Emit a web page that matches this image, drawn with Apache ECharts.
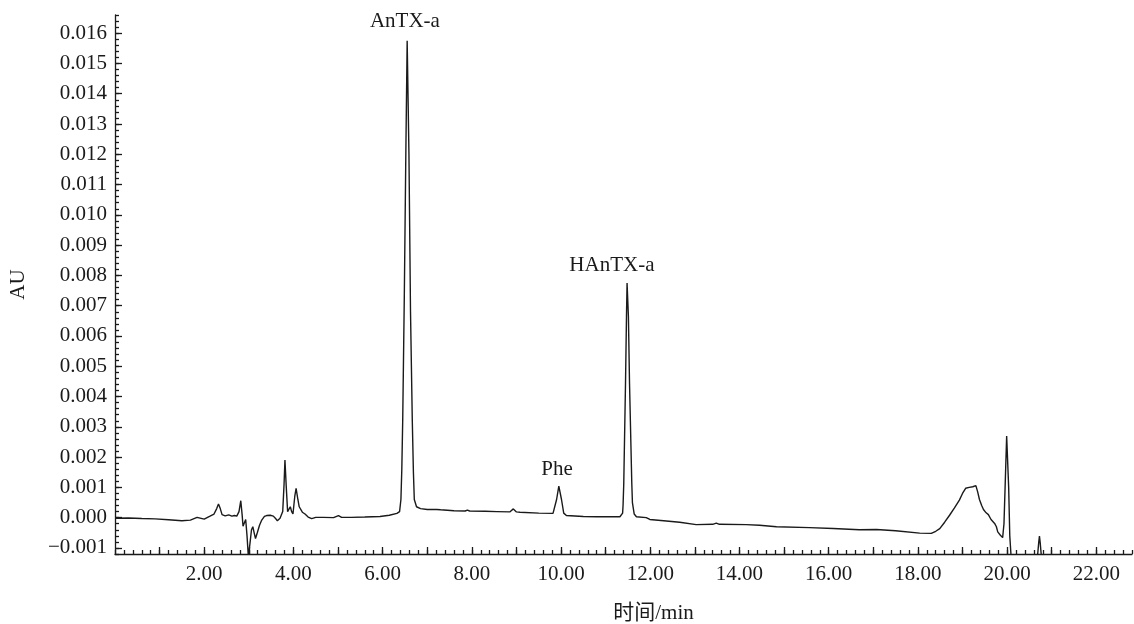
<!DOCTYPE html>
<html>
<head>
<meta charset="utf-8">
<title>HPLC chromatogram</title>
<script src="https://cdn.jsdelivr.net/npm/echarts@6/dist/echarts.min.js"></script>
<style>
  html, body { margin: 0; padding: 0; background: #fff; }
  #chart { width: 1134px; height: 624px; }
</style>
</head>
<body>
<div id="chart"></div>
<script>
// retention time (min) and absorbance (AU)
const times = [
  0.00, 0.30, 0.60, 0.90, 1.20, 1.50, 1.69, 1.84, 2.00, 2.13, 2.22, 2.28, 2.32, 2.36, 2.40,
  2.47, 2.55, 2.62, 2.68, 2.73, 2.78, 2.82, 2.85, 2.87, 2.90, 2.93, 2.96, 2.99, 3.03, 3.06,
  3.09, 3.12, 3.15, 3.19, 3.24, 3.29, 3.35, 3.40, 3.48, 3.55, 3.60, 3.64, 3.70, 3.76, 3.79,
  3.81, 3.84, 3.87, 3.93, 3.96, 3.99, 4.03, 4.06, 4.10, 4.13, 4.20, 4.26, 4.33, 4.41, 4.50,
  4.67, 4.90, 5.01, 5.08, 5.30, 5.60, 5.94, 6.15, 6.32, 6.38, 6.41, 6.43, 6.45, 6.485, 6.52,
  6.55, 6.59, 6.625, 6.665, 6.69, 6.71, 6.76, 6.85, 7.00, 7.21, 7.25, 7.30, 7.60, 7.85, 7.90,
  7.95, 8.30, 8.56, 8.85, 8.93, 9.00, 9.08, 9.50, 9.82, 9.86, 9.90, 9.95, 10.01, 10.06, 10.12,
  10.50, 10.80, 11.32, 11.38, 11.39, 11.406, 11.445, 11.467, 11.48, 11.51, 11.535, 11.586, 11.60, 11.64, 11.69,
  11.91, 11.99, 12.30, 12.66, 13.03, 13.40, 13.48, 13.55, 14.15, 14.45, 14.83, 15.57, 16.10, 16.69, 17.07,
  17.50, 18.04, 18.30, 18.40, 18.49, 18.60, 18.71, 18.82, 18.93, 19.00, 19.07, 19.15, 19.23, 19.27, 19.30,
  19.34, 19.38, 19.43, 19.47, 19.53, 19.58, 19.64, 19.72, 19.76, 19.79, 19.85, 19.90, 19.93, 19.955, 19.99,
  20.035, 20.06, 20.09, 20.15, 20.60, 20.68, 20.71, 20.725, 20.74, 20.77, 20.85, 22.80
];
const absorbance = [
  -0.00002, -0.00001, -0.00003, -0.00004, -0.00007, -0.00010, -0.00008, 0.00001, -0.00005, 0.00005, 0.00012, 0.00030, 0.00045, 0.00030, 0.00010,
  0.00006, 0.00009, 0.00005, 0.00007, 0.00005, 0.00020, 0.00056, 0.00010, -0.00028, -0.00032, -0.00006, -0.00060, -0.00130, -0.00080, -0.00040,
  -0.00030, -0.00050, -0.00069, -0.00050, -0.00025, -0.00008, 0.00004, 0.00007, 0.00008, 0.00005, -0.00003, -0.00010, -0.00002, 0.00020, 0.00110,
  0.00190, 0.00100, 0.00020, 0.00036, 0.00020, 0.00012, 0.00070, 0.00097, 0.00060, 0.00036, 0.00018, 0.00012, 0.00002, -0.00003, 0.00001,
  0.00001, 0.00000, 0.00007, 0.00001, 0.00001, 0.00002, 0.00004, 0.00008, 0.00014, 0.00020, 0.00060, 0.00160, 0.00320, 0.00720, 0.01200,
  0.01575, 0.01200, 0.00680, 0.00320, 0.00150, 0.00060, 0.00036, 0.00030, 0.00027, 0.00027, 0.00030, 0.00026, 0.00023, 0.00022, 0.00025,
  0.00022, 0.00021, 0.00020, 0.00019, 0.00029, 0.00019, 0.00018, 0.00015, 0.00014, 0.00020, 0.00060, 0.00104, 0.00060, 0.00015, 0.00007,
  0.00004, 0.00003, 0.00003, 0.00015, 0.00040, 0.00113, 0.00444, 0.00665, 0.00775, 0.00665, 0.00444, 0.00113, 0.00050, 0.00012, 0.00003,
  0.00000, -0.00006, -0.00010, -0.00015, -0.00023, -0.00022, -0.00018, -0.00022, -0.00023, -0.00025, -0.00030, -0.00033, -0.00036, -0.00040, -0.00039,
  -0.00043, -0.00051, -0.00052, -0.00045, -0.00036, -0.00015, 0.00008, 0.00032, 0.00058, 0.00080, 0.00097, 0.00100, 0.00102, 0.00098, 0.00106,
  0.00085, 0.00060, 0.00040, 0.00027, 0.00016, 0.00010, -0.00006, -0.00019, -0.00030, -0.00047, -0.00058, -0.00066, -0.00020, 0.00100, 0.00270,
  0.00100, -0.00060, -0.00130, -0.00200, -0.00200, -0.00130, -0.00080, -0.00061, -0.00080, -0.00130, -0.00200, -0.00200
];

// peak annotations (label centre in data coords)
const peakNames = ['AnTX-a', 'Phe', 'HAnTX-a'];
const peakLabelTimes = [6.50, 9.91, 11.14];
const peakLabelValues = [0.0164, 0.0016, 0.00834];

// axis ticks
const yTicks = [-0.001, 0, 0.001, 0.002, 0.003, 0.004, 0.005, 0.006, 0.007, 0.008,
  0.009, 0.010, 0.011, 0.012, 0.013, 0.014, 0.015, 0.016];
const xMajorTicks = [1, 2, 3, 4, 5, 6, 7, 8, 9, 10, 11, 12, 13, 14, 15, 16, 17, 18, 19, 20, 21, 22];
const xTickLabels = [2, 4, 6, 8, 10, 12, 14, 16, 18, 20, 22];

const FONT = "'Liberation Serif', 'Times New Roman', 'Noto Sans CJK SC', serif";
const INK = '#1a1a1a';
const X_MIN = 0, X_MAX = 22.8, Y_MIN = -0.0012, Y_MAX = 0.0166;

const chart = echarts.init(document.getElementById('chart'));

const lineStyle = { color: INK, width: 1.3 };

chart.setOption({
  animation: false,
  backgroundColor: '#fff',
  textStyle: { fontFamily: FONT, color: INK },
  grid: { left: 115, right: 2, top: 15, bottom: 70, containLabel: false, outerBoundsMode: 'none' },
  xAxis: [
    {
      type: 'value',
      min: X_MIN,
      max: X_MAX,
      position: 'bottom',
      name: '时间/min',
      nameLocation: 'middle',
      nameGap: 49,
      nameTextStyle: { fontFamily: FONT, fontSize: 21, color: INK, padding: [0, 0, 0, 60] },
      axisLine: { show: true, onZero: false, lineStyle },
      axisTick: { show: true, inside: true, length: 7, customValues: xMajorTicks, lineStyle },
      axisLabel: {
        show: true,
        customValues: xTickLabels,
        margin: 10,
        fontFamily: FONT,
        fontSize: 21,
        color: INK,
        formatter: (v) => v.toFixed(2)
      },
      splitLine: { show: false }
    },
    {
      type: 'value',
      min: X_MIN,
      max: X_MAX,
      interval: 0.2,
      position: 'bottom',
      axisLine: { show: false, onZero: false },
      axisTick: { show: true, inside: true, length: 4, lineStyle },
      axisLabel: { show: false },
      splitLine: { show: false }
    }
  ],
  yAxis: [
    {
      type: 'value',
      min: Y_MIN,
      max: Y_MAX,
      position: 'left',
      name: 'AU',
      nameLocation: 'middle',
      nameRotate: 90,
      nameGap: 86,
      nameTextStyle: { fontFamily: FONT, fontSize: 21, color: INK },
      axisLine: { show: true, onZero: false, lineStyle },
      axisTick: { show: true, inside: true, length: 7, customValues: yTicks, lineStyle },
      axisLabel: {
        show: true,
        customValues: yTicks,
        margin: 8,
        fontFamily: FONT,
        fontSize: 21,
        color: INK,
        formatter: (v) => (v < 0 ? '\u2212' : '') + Math.abs(v).toFixed(3)
      },
      splitLine: { show: false }
    },
    {
      type: 'value',
      min: Y_MIN,
      max: Y_MAX,
      interval: 0.0002,
      position: 'left',
      axisLine: { show: false, onZero: false },
      axisTick: { show: true, inside: true, length: 4, lineStyle },
      axisLabel: { show: false },
      splitLine: { show: false }
    }
  ],
  series: [
    {
      name: 'trace',
      type: 'line',
      xAxisIndex: 0,
      yAxisIndex: 0,
      data: times.map((t, i) => [t, absorbance[i]]),
      showSymbol: false,
      symbol: 'none',
      smooth: false,
      clip: true,
      lineStyle: { color: INK, width: 1.4 },
      silent: true
    },
    {
      name: 'peaks',
      type: 'scatter',
      xAxisIndex: 0,
      yAxisIndex: 0,
      symbolSize: 1,
      itemStyle: { color: 'rgba(0,0,0,0)' },
      data: peakNames.map((n, i) => ({ name: n, value: [peakLabelTimes[i], peakLabelValues[i]] })),
      label: {
        show: true,
        position: 'inside',
        formatter: (p) => p.name,
        fontFamily: FONT,
        fontSize: 21,
        color: INK,
        textBorderWidth: 0,
        opacity: 1
      },
      silent: true
    }
  ]
});
</script>
</body>
</html>
